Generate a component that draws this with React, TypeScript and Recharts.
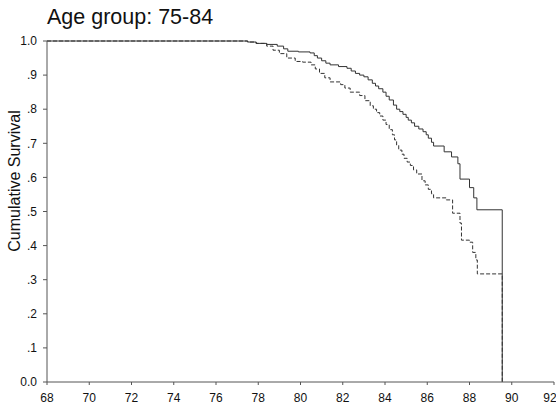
import React from "react";
import { LineChart, Line, XAxis, YAxis } from "recharts";

// Kaplan-Meier estimates, age group 75-84. Each pair is (age at event, survival after it).
const GROUP_A_AGE = [
  68, 77.5, 77.9, 78.4, 78.9, 79.2, 79.4, 79.9, 80.45, 80.65, 80.8, 81.0, 81.2, 81.4,
  81.8, 82.2, 82.4, 82.6, 82.8, 83.0, 83.2, 83.4, 83.55, 83.7, 83.9, 84.05, 84.2, 84.4,
  84.55, 84.7, 84.85, 85.0, 85.1, 85.25, 85.4, 85.6, 85.8, 85.95, 86.05, 86.2, 86.3,
  86.8, 87.15, 87.45, 87.55, 88.0, 88.2, 88.35, 89.55,
];
const GROUP_A_SURV = [
  1.0, 0.997, 0.993, 0.99, 0.985, 0.977, 0.97, 0.968, 0.965, 0.957, 0.95, 0.942, 0.935,
  0.93, 0.925, 0.92, 0.912, 0.905, 0.9, 0.895, 0.886, 0.876, 0.868, 0.86, 0.85, 0.838,
  0.827, 0.812, 0.8, 0.793, 0.785, 0.776, 0.768, 0.76, 0.75, 0.742, 0.734, 0.725, 0.715,
  0.703, 0.692, 0.675, 0.66, 0.64, 0.595, 0.57, 0.54, 0.505, 0.0,
];

const GROUP_B_AGE = [
  68, 77.5, 77.9, 78.4, 78.7, 79.0, 79.35, 79.75, 80.1, 80.5, 80.7, 80.9, 81.15, 81.4,
  81.9, 82.1, 82.35, 82.8, 83.05, 83.3, 83.45, 83.6, 83.75, 83.9, 84.05, 84.2, 84.35,
  84.45, 84.55, 84.65, 84.8, 84.9, 85.05, 85.2, 85.35, 85.5, 85.75, 85.9, 86.05, 86.2,
  86.3, 86.9, 87.2, 87.55, 87.62, 88.0, 88.15, 88.3, 88.37, 89.55,
];
const GROUP_B_SURV = [
  1.0, 0.997, 0.993, 0.985, 0.973, 0.963, 0.95, 0.94, 0.938, 0.93, 0.918, 0.905, 0.892,
  0.88, 0.872, 0.862, 0.85, 0.84, 0.825, 0.81, 0.8, 0.79, 0.78, 0.768, 0.755, 0.74,
  0.725, 0.71, 0.695, 0.68, 0.668, 0.656, 0.645, 0.635, 0.622, 0.61, 0.59, 0.578, 0.565,
  0.552, 0.54, 0.534, 0.495, 0.466, 0.416, 0.41, 0.38, 0.358, 0.317, 0.0,
];

const X_TICKS = [68, 70, 72, 74, 76, 78, 80, 82, 84, 86, 88, 90, 92];
const Y_TICKS = [0, 0.1, 0.2, 0.3, 0.4, 0.5, 0.6, 0.7, 0.8, 0.9, 1.0];

const FONT = "'Liberation Sans', Arial, sans-serif";

const toRows = (ages: number[], surv: number[]) =>
  ages.map((age, i) => ({ age, s: surv[i] }));

// SPSS-style labels: "0.0" and "1.0" at the ends, ".1" .. ".9" between.
function fmtSurv(v: number): string {
  if (v <= 0) return "0.0";
  if (v >= 1) return "1.0";
  return "." + Math.round(v * 10);
}

function YTitle() {
  const cx = 14;
  const cy = 181;
  return (
    <text
      x={cx}
      y={cy}
      transform={`rotate(-90 ${cx} ${cy})`}
      textAnchor="middle"
      dominantBaseline="central"
      fontSize={16}
      fontFamily={FONT}
      fill="#111"
    >
      Cumulative Survival
    </text>
  );
}

export default function App() {
  const groupA = toRows(GROUP_A_AGE, GROUP_A_SURV);
  const groupB = toRows(GROUP_B_AGE, GROUP_B_SURV);

  return (
    <div
      style={{
        position: "absolute",
        left: 0,
        top: 0,
        width: 556,
        height: 412,
        background: "#fff",
        fontFamily: FONT,
      }}
    >
      <div
        style={{
          position: "absolute",
          left: 47,
          top: 5,
          fontSize: 21.5,
          color: "#111",
          lineHeight: "24px",
        }}
      >
        Age group: 75-84
      </div>
      <LineChart
        width={556}
        height={412}
        margin={{ top: 41, right: 2, bottom: 0, left: 0 }}
      >
        <XAxis
          dataKey="age"
          type="number"
          domain={[68, 92]}
          ticks={X_TICKS}
          allowDataOverflow
          height={30}
          tickSize={3}
          tickMargin={8}
          stroke="#555"
          tick={{ fill: "#111", fontSize: 12, fontFamily: FONT }}
        />
        <YAxis
          type="number"
          domain={[0, 1]}
          ticks={Y_TICKS}
          width={47}
          tickSize={4}
          tickMargin={6}
          tickFormatter={fmtSurv}
          stroke="#555"
          tick={{ fill: "#111", fontSize: 12, fontFamily: FONT }}
          label={<YTitle />}
        />
        <Line
          data={groupA}
          dataKey="s"
          type="stepAfter"
          stroke="#333"
          strokeWidth={1}
          dot={false}
          isAnimationActive={false}
        />
        <Line
          data={groupB}
          dataKey="s"
          type="stepAfter"
          stroke="#333"
          strokeWidth={1}
          strokeDasharray="4 2"
          dot={false}
          isAnimationActive={false}
        />
      </LineChart>
    </div>
  );
}
